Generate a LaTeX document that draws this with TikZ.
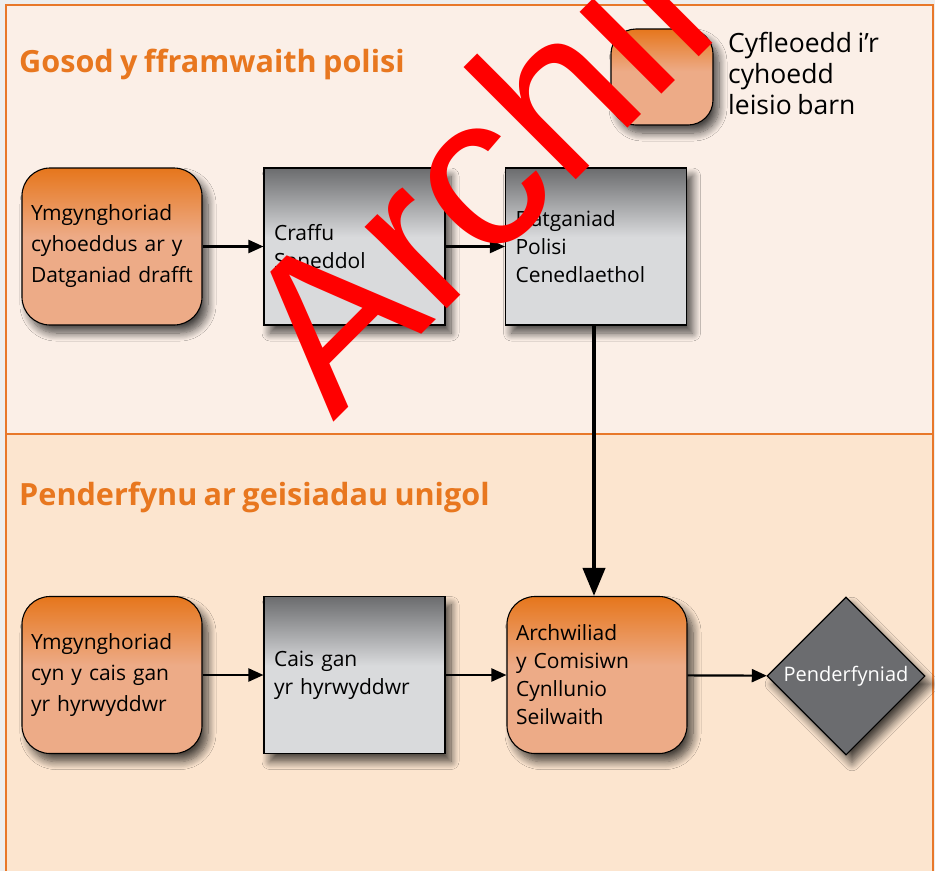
\documentclass[tikz,border=0pt]{standalone}
\usepackage{fontspec}
\setmainfont{Open Sans}[WordSpace=0.8]
\newfontfamily\wmfont{Liberation Sans}
\usetikzlibrary{shadows.blur,arrows.meta,shapes.geometric}
\definecolor{bgout}{HTML}{EEEEEE}
\definecolor{bgtop}{HTML}{FBEFE7}
\definecolor{bgbot}{HTML}{FCE5CF}
\definecolor{orline}{HTML}{E8782A}
\definecolor{orD}{HTML}{E6761C}
\definecolor{orL}{HTML}{EDAB87}
\definecolor{grD}{HTML}{6B6C6E}
\definecolor{grL}{HTML}{D9DADC}
\definecolor{diam}{HTML}{6B6C6F}
\definecolor{titleor}{HTML}{E8771F}
\pgfdeclareverticalshading{orsh}{100bp}{color(0bp)=(orL); color(53bp)=(orL); color(75bp)=(orD); color(100bp)=(orD)}
\pgfdeclareverticalshading{grsh}{100bp}{color(0bp)=(grL); color(53bp)=(grL); color(75bp)=(grD); color(100bp)=(grD)}
\tikzset{
  shad/.style={blur shadow={shadow xshift=6pt, shadow yshift=-8pt, shadow blur steps=10, shadow blur radius=8pt, shadow opacity=70}},
  rbox/.style={shad, draw=black, line width=1.1pt, shading=orsh, rounded corners=28pt,
    minimum width=180pt, minimum height=157pt, text width=162pt, inner xsep=9pt, inner ysep=11pt, align=left,
    font=\fontsize{21}{31}\selectfont},
  gbox/.style={shad, draw=black, line width=1.1pt, shading=grsh,
    minimum width=181pt, minimum height=157pt, text width=161pt, inner sep=10pt, align=left,
    font=\fontsize{21}{28}\selectfont},
  dbox/.style={shad, draw=black, line width=1.1pt, fill=diam, diamond, minimum width=158pt, minimum height=158pt,
    inner sep=0pt, text=white, font=\fontsize{20}{24}\selectfont},
  title/.style={anchor=base west, inner sep=0pt, text=titleor, font=\bfseries\fontsize{30.6}{36}\selectfont},
  arr/.style={line width=2.2pt, -{Triangle[length=15pt,width=13pt]}},
  bigarr/.style={line width=4pt, -{Triangle[length=28pt,width=22pt]}},
  bord/.style={orline, line width=2.5pt}
}
\begin{document}
\begin{tikzpicture}[x=1pt,y=-1pt]
\useasboundingbox (0,0) rectangle (935,871);
% backgrounds
\fill[bgout] (0,0) rectangle (935,871);
\fill[bgtop] (6,5) rectangle (933,434);
\fill[bgbot] (6,434) rectangle (933,871);
\draw[bord] (6,5) -- (933,5);
\draw[bord] (6,4) -- (6,871);
\draw[bord] (933,4) -- (933,871);
\draw[bord] (6,434) -- (933,434);
% titles
\node[title] (t1) at (19,72) {Gosod y fframwaith polisi};
\node[title] (t2) at (19,505) {Penderfynu ar geisiadau unigol};
% top row
\node[rbox, rounded corners=25pt, minimum width=102pt, minimum height=96pt, text width=80pt] (D) at (662,77) {};
\node[anchor=west, align=left, inner sep=0pt, font=\fontsize{26.5}{31}\selectfont] (Dt) at (728,73) {Cyfleoedd i’r\\cyhoedd\\leisio barn};
\node[rbox] (A) at (112,246.5) {Ymgynghoriad\\cyhoeddus ar y\\Datganiad drafft};
\node[gbox] (B) at (354.5,246.5) {Craffu\\Seneddol};
\node[gbox] (C) at (596,246.5) {Datganiad\\Polisi\\Cenedlaethol};
% bottom row
\node[rbox] (E) at (112,675) {Ymgynghoriad\\cyn y cais gan\\yr hyrwyddwr};
\node[gbox] (F) at (354.5,675) {Cais gan\\yr hyrwyddwr};
\node[rbox, font=\fontsize{21}{28}\selectfont] (G) at (597,675) {Archwiliad\\y Comisiwn\\Cynllunio\\Seilwaith};
\node[dbox] (H) at (846,676) {Penderfyniad};
% connectors
\draw[arr] (A) -- (B);
\draw[arr] (B) -- (C);
\draw[bigarr] (C.south -| 594,0) -- (G.north -| 594,0);
\draw[arr] (E) -- (F);
\draw[arr] (F) -- (G);
\draw[arr] (G) -- (H);
% watermark
\begin{scope}
\clip (0,0) rectangle (935,871);
\node[anchor=base west, inner sep=0pt, rotate=45, text=red, font=\wmfont\fontsize{219}{219}\selectfont] (wm) at (333,423) {Archif};
\end{scope}
\end{tikzpicture}
\end{document}
